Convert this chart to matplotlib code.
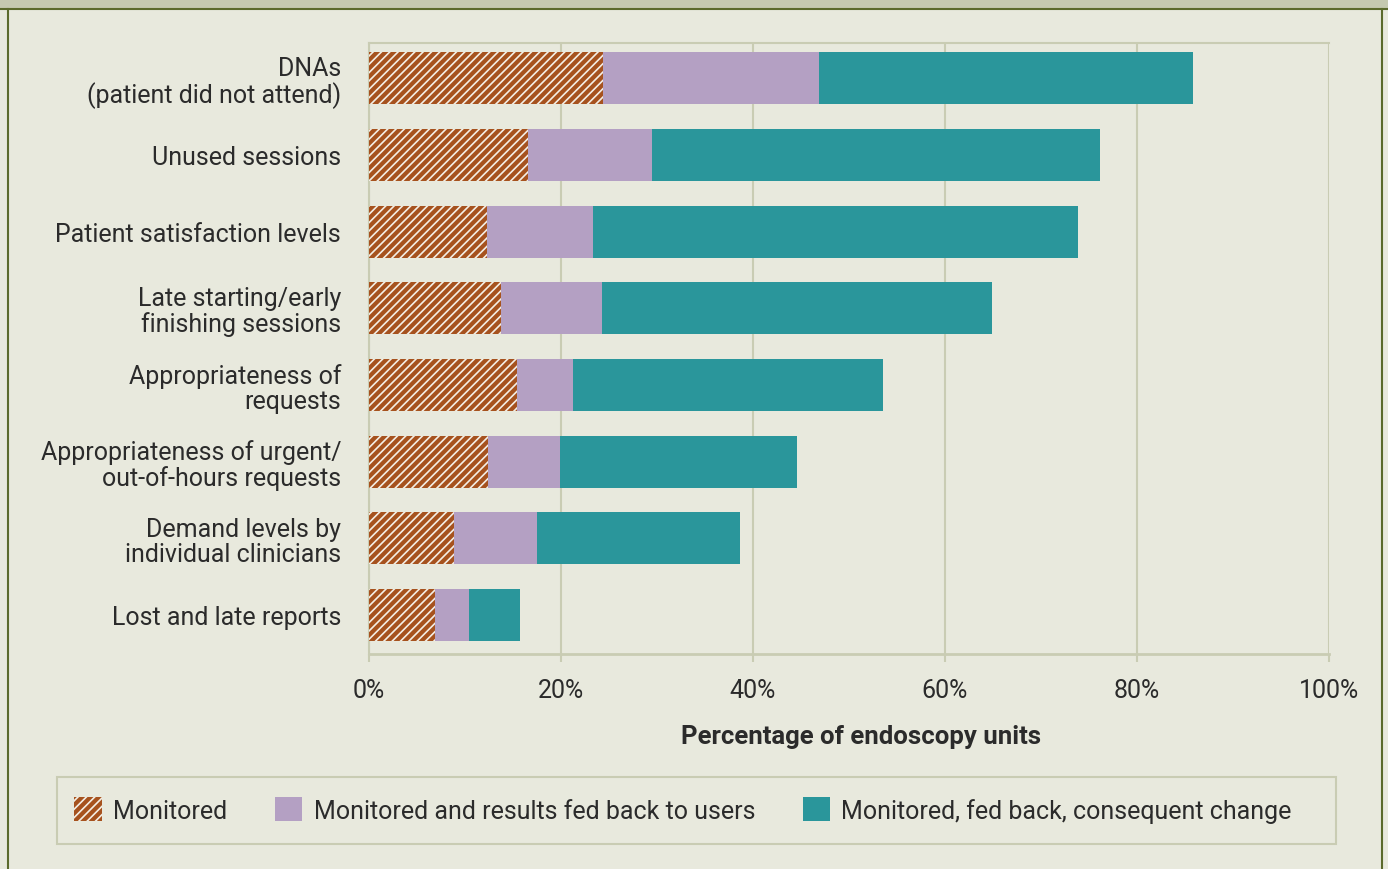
import matplotlib.pyplot as plt
from matplotlib.patches import Rectangle, Patch
from matplotlib.lines import Line2D

plt.rcParams['font.family'] = ['Roboto', 'DejaVu Sans']
plt.rcParams['hatch.linewidth'] = 1.2

categories = ['DNAs\n(patient did not attend)', 'Unused sessions',
              'Patient satisfaction levels', 'Late starting/early\nfinishing sessions',
              'Appropriateness of\nrequests', 'Appropriateness of urgent/\nout-of-hours requests',
              'Demand levels by\nindividual clinicians', 'Lost and late reports']
monitored = [24.4, 16.6, 12.3, 13.8, 15.4, 12.4, 8.9, 6.9]
fed_back = [22.5, 12.9, 11.0, 10.5, 5.9, 7.5, 8.6, 3.5]
changed = [38.9, 46.6, 50.6, 40.6, 32.2, 24.7, 21.1, 5.3]
series = ['Monitored', 'Monitored and results fed back to users',
          'Monitored, fed back, consequent change']

bg = '#e8e9dd'
grid_c = '#c9ccb3'
brown = '#a6521e'
purple = '#b4a0c3'
teal = '#2a969b'
txt = '#2b2b2b'
fs = 18

fig = plt.figure(figsize=(13.88, 8.70), dpi=100, facecolor=bg)
ax = fig.add_axes([369 / 1388, 1 - 655 / 870, 960 / 1388, 611 / 870])
ax.set_facecolor(bg)

y = range(len(categories))
left2 = [a for a in monitored]
left3 = [a + b for a, b in zip(monitored, fed_back)]
ax.barh(y, monitored, height=0.68, color=brown, edgecolor='#f4efe6', linewidth=0,
        hatch='////', zorder=3)
ax.barh(y, fed_back, left=left2, height=0.68, color=purple, linewidth=0, zorder=3)
ax.barh(y, changed, left=left3, height=0.68, color=teal, linewidth=0, zorder=3)

ax.set_xlim(0, 100)
ax.set_ylim(7.51, -0.46)
ax.set_yticks(list(y))
ax.set_yticklabels(categories, fontsize=fs, color=txt, linespacing=1.05)
ax.tick_params(axis='y', length=0, pad=20)
ax.set_xticks([0, 20, 40, 60, 80, 100])
ax.set_xticklabels(['0%', '20%', '40%', '60%', '80%', '100%'], fontsize=fs, color=txt)
ax.tick_params(axis='x', length=6, width=1.5, color=grid_c, pad=11)
ax.xaxis.grid(True, color=grid_c, linewidth=1.5, zorder=0)
ax.set_axisbelow(True)
for s in ['top', 'left', 'bottom']:
    ax.spines[s].set_color(grid_c)
    ax.spines[s].set_linewidth(1.5)
ax.spines['bottom'].set_linewidth(2)
ax.spines['right'].set_visible(False)
ax.set_xlabel('Percentage of endoscopy units', fontsize=18.5, fontweight='bold',
              color=txt)
ax.xaxis.set_label_coords(0.5125, -0.114)

# frame decorations
fig.add_artist(Rectangle((0, 1 - 10 / 870), 1, 10 / 870, transform=fig.transFigure,
                         facecolor='#c5c9b0', edgecolor='none'))
fig.add_artist(Line2D([0, 1], [1 - 10 / 870] * 2, color='#5b6a2c', linewidth=1.5))
fig.add_artist(Line2D([8 / 1388] * 2, [0, 1 - 10 / 870], color='#5b6a2c', linewidth=1.5))
fig.add_artist(Line2D([1382 / 1388] * 2, [0, 1 - 10 / 870], color='#5b6a2c', linewidth=1.5))

# legend box
fig.add_artist(Rectangle((57 / 1388, 1 - 845 / 870), 1279 / 1388, 67 / 870,
                         transform=fig.transFigure, facecolor='none',
                         edgecolor=grid_c, linewidth=1.5))
handles = [Patch(facecolor=brown, edgecolor='#f4efe6', linewidth=0, hatch='////'),
           Patch(facecolor=purple, linewidth=0),
           Patch(facecolor=teal, linewidth=0)]
leg = fig.legend(handles, series, loc='center', bbox_to_anchor=(683 / 1388, 1 - 811 / 870),
                 ncol=3, frameon=False, fontsize=fs, handlelength=1.1, handleheight=1.1,
                 handletextpad=0.45, columnspacing=1.9)
for t in leg.get_texts():
    t.set_color(txt)

fig.savefig('out.png', dpi=100, facecolor=bg)
